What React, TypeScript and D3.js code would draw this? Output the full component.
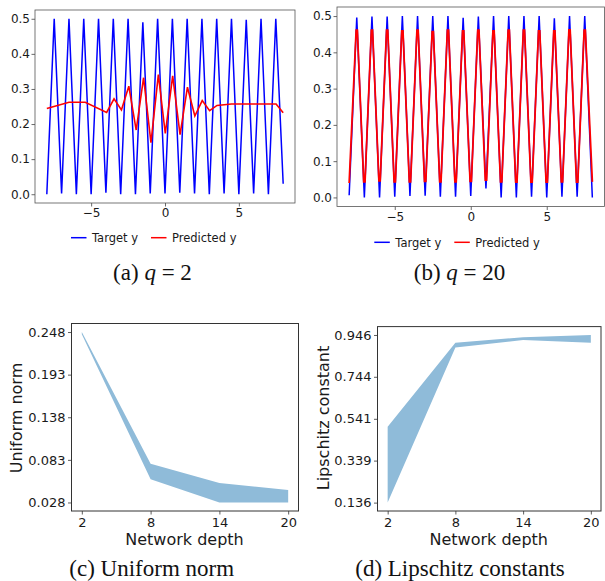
import React, { useEffect, useRef } from 'react'
import * as d3 from 'd3'

// sample positions of the two top panels (troughs on integers, peaks on half integers)
const waveX = [-8, -7.5, -7, -6.5, -6, -5.5, -5, -4.5, -4, -3.5, -3, -2.5, -2, -1.5, -1, -0.5, 0, 0.5, 1, 1.5, 2, 2.5, 3, 3.5, 4, 4.5, 5, 5.5, 6, 6.5, 7, 7.5, 8]

// (a) q = 2
const targetA = [0, 0.5, 0.002, 0.5, 0, 0.5, 0, 0.5, 0.004, 0.5, 0, 0.5, 0, 0.49, 0.002, 0.5, 0.002, 0.5, 0.004, 0.5, 0.002, 0.5, 0, 0.5, 0.002, 0.5, 0, 0.497, 0.002, 0.5, 0, 0.5, 0.03]
const predXA = [-8, -6.5, -5.4, -3.95, -3.45, -2.95, -2.45, -1.95, -1.45, -0.95, -0.45, 0.02, 0.52, 1.02, 1.52, 2.02, 2.52, 3.02, 3.52, 4.5, 7.52, 8]
const predA = [0.244, 0.262, 0.262, 0.233, 0.272, 0.24, 0.308, 0.183, 0.332, 0.147, 0.341, 0.173, 0.337, 0.17, 0.305, 0.223, 0.267, 0.238, 0.253, 0.257, 0.257, 0.232]

// (b) q = 20 -- prediction is the target clipped near the peaks and troughs
const targetB = [0.006, 0.496, 0, 0.499, 0, 0.499, 0.002, 0.5, 0.004, 0.5, 0.005, 0.5, 0.002, 0.5, 0.002, 0.495, 0.004, 0.499, 0.025, 0.5, 0, 0.5, 0, 0.5, 0.002, 0.5, 0, 0.494, 0.002, 0.5, 0.002, 0.5, 0]
const predXB = [-8, -7.54, -7.46, -7.043, -6.957, -6.54, -6.46, -6.043, -5.957, -5.54, -5.46, -5.043, -4.957, -4.54, -4.46, -4.043, -3.957, -3.54, -3.46, -3.043, -2.957, -2.54, -2.46, -2.043, -1.957, -1.54, -1.46, -1.043, -0.957, -0.54, -0.46, -0.043, 0.043, 0.46, 0.54, 0.957, 1.043, 1.46, 1.54, 1.957, 2.043, 2.46, 2.54, 2.957, 3.043, 3.46, 3.54, 3.957, 4.043, 4.46, 4.54, 4.957, 5.043, 5.46, 5.54, 5.957, 6.043, 6.46, 6.54, 6.957, 7.043, 7.46, 7.54, 8]
const predB = [0.04,
    0.461, 0.461, 0.043, 0.043, 0.461, 0.461, 0.046, 0.046,
    0.461, 0.461, 0.043, 0.043, 0.459, 0.459, 0.043, 0.043,
    0.461, 0.461, 0.044, 0.044, 0.457, 0.457, 0.043, 0.043,
    0.461, 0.461, 0.043, 0.043, 0.459, 0.459, 0.044, 0.044,
    0.461, 0.461, 0.048, 0.048, 0.459, 0.459, 0.043, 0.043,
    0.461, 0.461, 0.042, 0.042, 0.461, 0.461, 0.042, 0.042,
    0.459, 0.459, 0.042, 0.042, 0.459, 0.459, 0.043, 0.043,
    0.462, 0.462, 0.042, 0.042, 0.461, 0.461,
    0.043]

const waveXTicks = [-5, 0, 5]
const waveYTicks = [0, 0.1, 0.2, 0.3, 0.4, 0.5]

// (c), (d) bands over network depth
const depths = [2, 8, 14, 20]
const uniformLow = [0.245, 0.058, 0.028, 0.028]
const uniformHigh = [0.248, 0.078, 0.053, 0.044]
const uniformTicks = [0.028, 0.083, 0.138, 0.193, 0.248]
const lipLow = [0.136, 0.885, 0.922, 0.909]
const lipHigh = [0.503, 0.909, 0.935, 0.946]
const lipTicks = [0.136, 0.339, 0.541, 0.744, 0.946]

const BLUE = '#0000ff'
const RED = '#ff0000'
const BAND = '#8fbbd9'
const SANS = '"DejaVu Sans", sans-serif'
const SERIF = '"Liberation Serif", "Times New Roman", serif'

type Box = { left: number, right: number, top: number, bottom: number }
type Sel = d3.Selection<SVGGElement, unknown, null, undefined>

const minus = (d: number) => (d < 0 ? '\u2212' + Math.abs(d) : String(d))

function styleAxis(ax: Sel, size: number, stroke: string) {
    ax.select('.domain').remove()
    ax.selectAll('line').attr('stroke', stroke).attr('stroke-width', 0.8)
    ax.selectAll('text').attr('fill', '#1a1a1a').style('font-family', SANS).style('font-size', size + 'px')
}

function drawWave(svg: Sel, box: Box, target: number[], predX: number[], pred: number[], predWidth: number) {
    const x = d3.scaleLinear().domain([-8.8, 8.8]).range([box.left, box.right])
    const y = d3.scaleLinear().domain([-0.025, 0.525]).range([box.bottom, box.top])
    const line = d3.line<[number, number]>().x(d => x(d[0])).y(d => y(d[1]))

    svg.append('path')
        .attr('d', line(waveX.map((v, i) => [v, target[i]] as [number, number])))
        .attr('fill', 'none').attr('stroke', BLUE).attr('stroke-width', 1.5)
    svg.append('path')
        .attr('d', line(predX.map((v, i) => [v, pred[i]] as [number, number])))
        .attr('fill', 'none').attr('stroke', RED).attr('stroke-width', predWidth)

    const ax = svg.append('g').attr('transform', `translate(0,${box.bottom})`)
        .call(d3.axisBottom(x).tickValues(waveXTicks).tickSize(3.5).tickPadding(2).tickFormat(d => minus(+d)))
    styleAxis(ax, 12, '#444')
    const ay = svg.append('g').attr('transform', `translate(${box.left},0)`)
        .call(d3.axisLeft(y).tickValues(waveYTicks).tickSize(3.5).tickPadding(1.5).tickFormat(d3.format('.1f')))
    styleAxis(ay, 12, '#444')

    svg.append('rect')
        .attr('x', box.left).attr('y', box.top)
        .attr('width', box.right - box.left).attr('height', box.bottom - box.top)
        .attr('fill', 'none').attr('stroke', '#555').attr('stroke-width', 0.8)
}

function drawLegend(svg: Sel, x0: number, y0: number) {
    const items = [
        { label: 'Target y', color: BLUE, w: 64 },
        { label: 'Predicted y', color: RED, w: 0 },
    ]
    let cx = x0
    items.forEach(it => {
        svg.append('line').attr('x1', cx).attr('x2', cx + 15.5).attr('y1', y0).attr('y2', y0)
            .attr('stroke', it.color).attr('stroke-width', 1.5)
        svg.append('text').attr('x', cx + 21).attr('y', y0 + 4.3)
            .attr('fill', '#1a1a1a').style('font-family', SANS).style('font-size', '11.5px')
            .text(it.label)
        cx += 16 + it.w
    })
}

function drawBand(svg: Sel, box: Box, low: number[], high: number[], ticks: number[], yLabel: string, labelX: number) {
    const lo = d3.min(low) as number
    const hi = d3.max(high) as number
    const pad = (hi - lo) * 0.05
    const x = d3.scaleLinear().domain([1.1, 20.9]).range([box.left, box.right])
    const y = d3.scaleLinear().domain([lo - pad, hi + pad]).range([box.bottom, box.top])

    const area = d3.area<number>()
        .x(d => x(d))
        .y0((d, i) => y(low[i]))
        .y1((d, i) => y(high[i]))
    svg.append('path').attr('d', area(depths)).attr('fill', BAND)

    const ax = svg.append('g').attr('transform', `translate(0,${box.bottom})`)
        .call(d3.axisBottom(x).tickValues(depths).tickSize(3.5).tickPadding(3.5).tickFormat(d3.format('d')))
    styleAxis(ax, 13, '#333')
    const ay = svg.append('g').attr('transform', `translate(${box.left},0)`)
        .call(d3.axisLeft(y).tickValues(ticks).tickSize(3.5).tickPadding(2.5).tickFormat(d3.format('.3f')))
    styleAxis(ay, 13, '#333')

    svg.append('rect')
        .attr('x', box.left).attr('y', box.top)
        .attr('width', box.right - box.left).attr('height', box.bottom - box.top)
        .attr('fill', 'none').attr('stroke', '#333').attr('stroke-width', 1)

    svg.append('text')
        .attr('x', (box.left + box.right) / 2 - 0.5).attr('y', 544.5)
        .attr('text-anchor', 'middle').attr('fill', '#1a1a1a')
        .style('font-family', SANS).style('font-size', '16px')
        .text('Network depth')
    svg.append('text')
        .attr('transform', `translate(${labelX},418) rotate(-90)`)
        .attr('text-anchor', 'middle').attr('dy', '0.36em').attr('fill', '#1a1a1a')
        .style('font-family', SANS).style('font-size', '16px')
        .text(yLabel)
}

function drawCaption(svg: Sel, x: number, y: number, head: string, q?: string) {
    const t = svg.append('text').attr('x', x).attr('y', y).attr('text-anchor', 'middle')
        .attr('fill', '#111').style('font-family', SERIF).style('font-size', '23px')
    t.append('tspan').text(head)
    if (q) {
        t.append('tspan').style('font-style', 'italic').text('q')
        t.append('tspan').text(' = ' + q)
    }
}

export default function App() {
    const ref = useRef<SVGSVGElement>(null)

    useEffect(() => {
        const root = d3.select(ref.current)
        root.selectAll('*').remove()
        const svg = root.append('g') as unknown as Sel

        drawWave(svg, { left: 35, right: 295, top: 10, bottom: 203 }, targetA, predXA, predA, 1.6)
        drawWave(svg, { left: 337, right: 604.5, top: 7, bottom: 206.5 }, targetB, predXB, predB, 1.8)
        drawLegend(svg, 71, 237.7)
        drawLegend(svg, 374.3, 242.3)
        drawCaption(svg, 152.5, 280, '(a) ', '2')
        drawCaption(svg, 459.5, 280, '(b) ', '20')

        drawBand(svg, { left: 71.5, right: 298.5, top: 323.5, bottom: 511 }, uniformLow, uniformHigh, uniformTicks, 'Uniform norm', 16.7)
        drawBand(svg, { left: 377.5, right: 601, top: 326.6, bottom: 511 }, lipLow, lipHigh, lipTicks, 'Lipschitz constant', 323.3)
        drawCaption(svg, 151.7, 576, '(c) Uniform norm')
        drawCaption(svg, 460, 576, '(d) Lipschitz constants')
    }, [])

    return (
        <svg ref={ref} width={605} height={581}
            style={{ position: 'absolute', left: 0, top: 0, background: '#fff' }} />
    )
}
